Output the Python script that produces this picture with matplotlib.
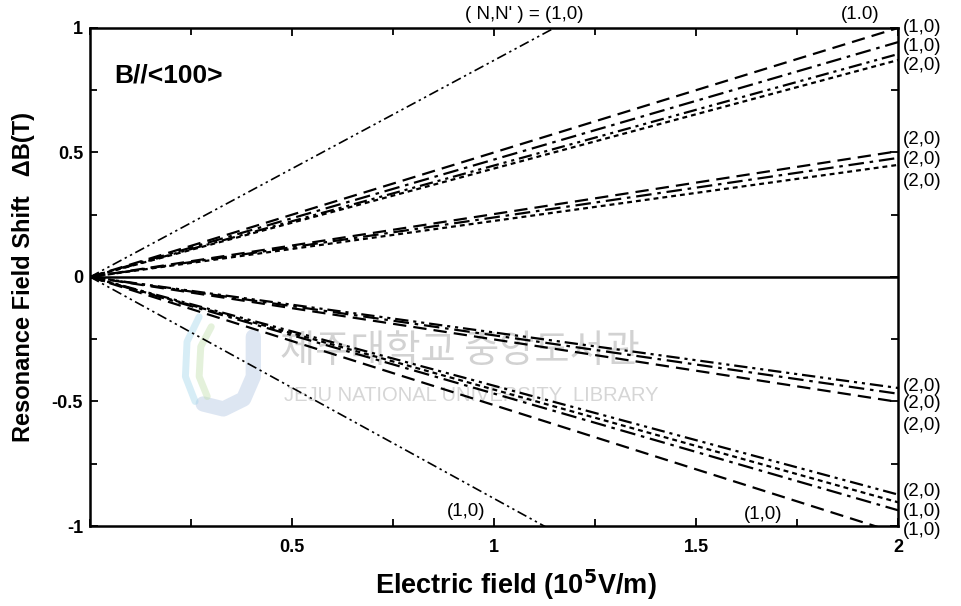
import matplotlib
matplotlib.use("Agg")
import matplotlib.pyplot as plt
from matplotlib.ticker import MultipleLocator, FixedLocator, FixedFormatter

plt.rcParams['font.family'] = ['Liberation Sans', 'DejaVu Sans']

# Electric field end points (10^5 V/m); every shift is linear in the field
field = [0.0, 2.0]

# Resonance field shift (T) at the field end points, per transition
steep_up = [0.0, 1.74]
steep_down = [0.0, -1.78]

upper_dash = [0.0, 1.00]
upper_dashdot = [0.0, 0.943]
upper_dashdotdot = [0.0, 0.895]
upper_dotted = [0.0, 0.871]

mid_dash = [0.0, 0.505]
mid_dashdot = [0.0, 0.478]
mid_dotted = [0.0, 0.450]

zero_line = [0.0, 0.0]

neg_mid_dotted = [0.0, -0.446]
neg_mid_dashdot = [0.0, -0.469]
neg_mid_dash = [0.0, -0.502]

lower_dashdotdot = [0.0, -0.874]
lower_dotted = [0.0, -0.905]
lower_dashdot = [0.0, -0.937]
lower_dash = [0.0, -1.03]

x_ticks = [0.5, 1.0, 1.5, 2.0]
x_tick_labels = ["0.5", "1", "1.5", "2"]
y_ticks = [-1.0, -0.5, 0.0, 0.5, 1.0]
y_tick_labels = ["-1", "-0.5", "0", "0.5", "1"]

# transition labels beside the right axis: (text, shift position)
right_labels = [
    ("(1,0)", 0.925), ("(2,0)", 0.85),
    ("(2,0)", 0.55), ("(2,0)", 0.47), ("(2,0)", 0.385),
    ("(2,0)", -0.44), ("(2,0)", -0.51), ("(2,0)", -0.595),
    ("(2,0)", -0.86), ("(1,0)", -0.94), ("(1,0)", -1.02),
]
top_right_label = ("(1,0)", 1.0)

DASH = (0, (6, 3.2))
DASHDOT = (0, (7, 2.6, 1.6, 2.6))
DASHDOTDOT = (0, (6, 2.2, 1.4, 2.2, 1.4, 2.2))
DOTTED = (0, (2.2, 1.8))

fig = plt.figure(figsize=(9.61, 6.06), dpi=100)
ax = fig.add_axes([0.0937, 0.132, 0.841, 0.822])

lw = 1.6
ax.plot(field, steep_up, color="black", lw=1.2, ls=DASHDOTDOT)
ax.plot(field, steep_down, color="black", lw=1.2, ls=DASHDOTDOT)

ax.plot(field, upper_dash, color="black", lw=lw, ls=DASH)
ax.plot(field, upper_dashdot, color="black", lw=lw, ls=DASHDOT)
ax.plot(field, upper_dashdotdot, color="black", lw=lw, ls=DASHDOTDOT)
ax.plot(field, upper_dotted, color="black", lw=lw, ls=DOTTED)

ax.plot(field, mid_dash, color="black", lw=lw, ls=DASH)
ax.plot(field, mid_dashdot, color="black", lw=lw, ls=DASHDOT)
ax.plot(field, mid_dotted, color="black", lw=lw, ls=DOTTED)

ax.plot(field, zero_line, color="black", lw=1.8, ls="-")

ax.plot(field, neg_mid_dotted, color="black", lw=lw, ls=DASHDOTDOT)
ax.plot(field, neg_mid_dashdot, color="black", lw=lw, ls=DASHDOT)
ax.plot(field, neg_mid_dash, color="black", lw=lw, ls=DASH)

ax.plot(field, lower_dashdotdot, color="black", lw=lw, ls=DASHDOTDOT)
ax.plot(field, lower_dotted, color="black", lw=lw, ls=DOTTED)
ax.plot(field, lower_dashdot, color="black", lw=lw, ls=DASHDOT)
ax.plot(field, lower_dash, color="black", lw=lw, ls=DASH)

ax.set_xlim(0, 2)
ax.set_ylim(-1, 1)

ax.xaxis.set_major_locator(FixedLocator(x_ticks))
ax.xaxis.set_major_formatter(FixedFormatter(x_tick_labels))
ax.yaxis.set_major_locator(FixedLocator(y_ticks))
ax.yaxis.set_major_formatter(FixedFormatter(y_tick_labels))
ax.xaxis.set_minor_locator(MultipleLocator(0.25))
ax.yaxis.set_minor_locator(MultipleLocator(0.25))
ax.tick_params(which="both", direction="in", top=True, right=True,
               width=1.3, color="black")
ax.tick_params(which="major", length=6, labelsize=13)
ax.tick_params(axis="y", which="major", pad=5)
ax.tick_params(axis="x", which="major", pad=9)
ax.tick_params(which="minor", length=5)
for lab in ax.get_xticklabels() + ax.get_yticklabels():
    lab.set_fontweight("bold")
for s in ax.spines.values():
    s.set_linewidth(1.8)

ax.set_xlabel("Electric field (10$^{\\mathbf{5}}$V/m)", fontsize=19.5,
              fontweight="bold")
ax.xaxis.set_label_coords(0.527, -0.083)
ax.set_ylabel("Resonance Field Shift   \u0394B(T)", fontsize=17,
              fontweight="bold", labelpad=12)

ax.text(0.03, 0.905, "B//<100>", fontsize=19, fontweight="bold",
        ha="left", va="center", transform=ax.transAxes)

# library watermark: emblem and name
ax.plot([0.202, 0.202, 0.19, 0.165, 0.14], [0.38, 0.30, 0.255, 0.235, 0.245],
        color="#b4c8e4", lw=11, alpha=0.45, solid_capstyle="round",
        transform=ax.transAxes, zorder=0)
ax.plot([0.135, 0.12, 0.118, 0.13], [0.42, 0.37, 0.30, 0.25],
        color="#a8d8ec", lw=5, alpha=0.45, solid_capstyle="round",
        transform=ax.transAxes, zorder=0)
ax.plot([0.15, 0.137, 0.135, 0.145], [0.40, 0.36, 0.30, 0.26],
        color="#c4e0b0", lw=5, alpha=0.45, solid_capstyle="round",
        transform=ax.transAxes, zorder=0)
ax.text(0.235, 0.35, "제주대학교 중앙도서관", fontsize=27.5, color="#d2d2d2",
        family=["Noto Sans CJK KR", "DejaVu Sans"], ha="left", va="center",
        zorder=0, transform=ax.transAxes)
ax.text(0.24, 0.262, "JEJU NATIONAL UNIVERSITY  LIBRARY", fontsize=14.5,
        color="#d6d6d6", ha="left", va="center", zorder=0,
        transform=ax.transAxes)

# transition labels
for txt, yv in right_labels:
    ax.text(2.012, yv, txt, fontsize=13.5, ha="left", va="center",
            clip_on=False)
ax.text(2.012, top_right_label[1], top_right_label[0], fontsize=13.5,
        ha="left", va="center", clip_on=False)
ax.text(1.906, 1.055, "(1.0)", fontsize=13.5, ha="center", va="center",
        clip_on=False)
ax.text(1.075, 1.052, "( N,N' ) = (1,0)", fontsize=13.5, ha="center",
        va="center", clip_on=False)
ax.text(0.93, -0.94, "(1,0)", fontsize=13.5, ha="center", va="center")
ax.text(1.665, -0.955, "(1,0)", fontsize=13.5, ha="center", va="center")

fig.savefig("out.png", dpi=100)
